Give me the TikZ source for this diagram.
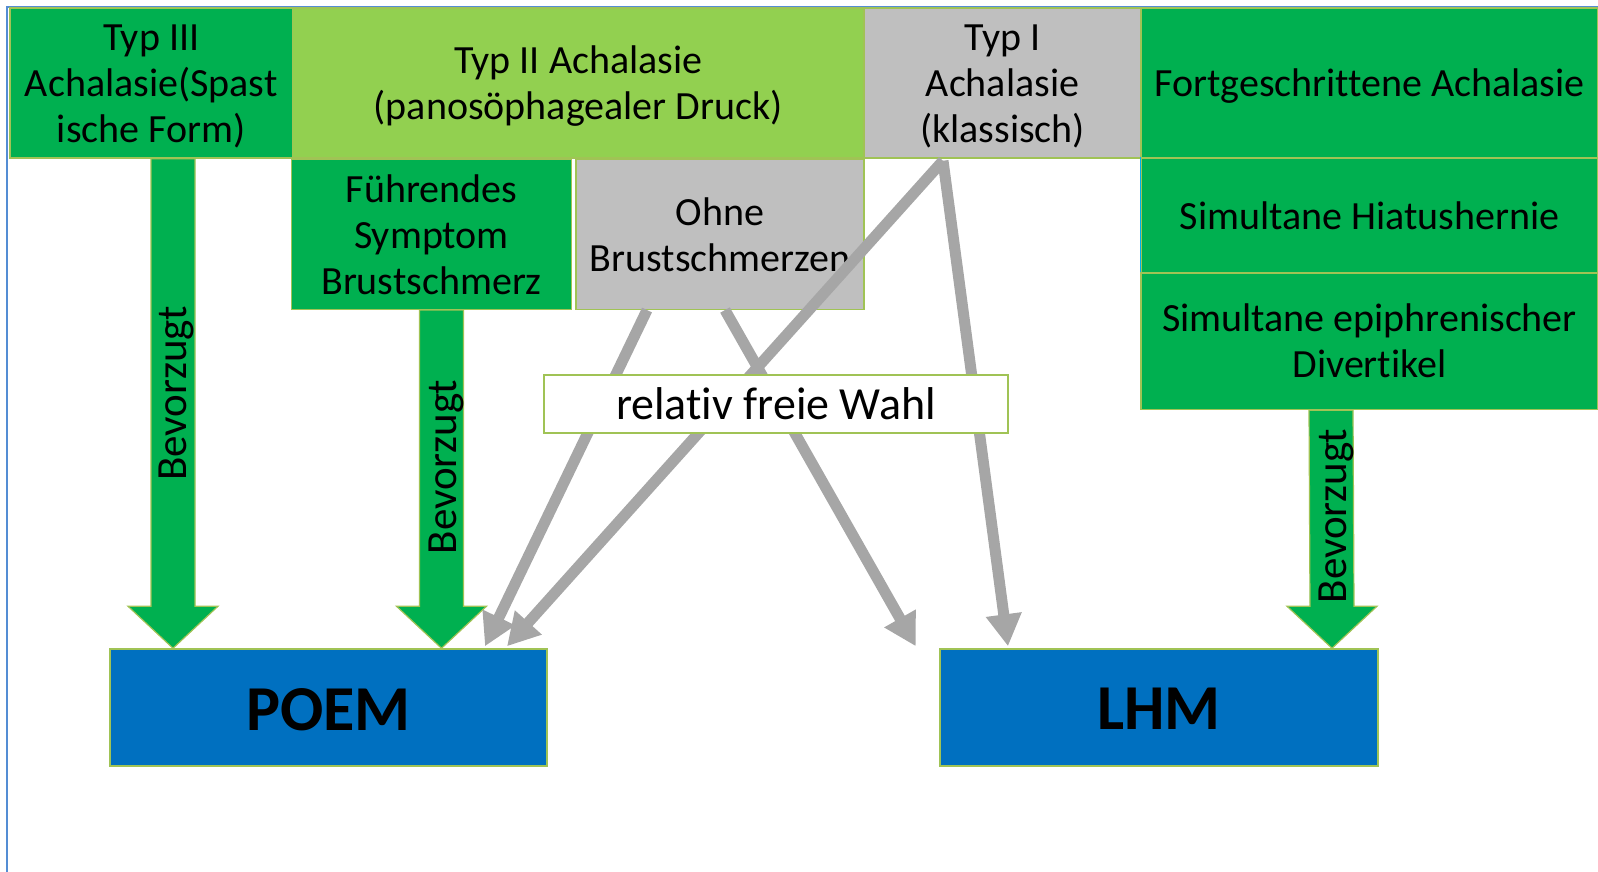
\documentclass[tikz,border=0pt]{standalone}
\usepackage{fontspec}
\setmainfont{Carlito}[Ligatures={NoCommon,NoContextual}]
\usetikzlibrary{arrows.meta,calc}
\definecolor{dgreen}{RGB}{0,176,80}
\definecolor{lgreen}{RGB}{146,208,80}
\definecolor{lgray}{RGB}{191,191,191}
\definecolor{pblue}{RGB}{0,112,192}
\definecolor{agray}{RGB}{166,166,166}
\definecolor{bord}{RGB}{160,195,85}
\definecolor{framec}{RGB}{84,141,212}
\definecolor{cyanedge}{RGB}{0,176,240}
\newcommand\myblockarrow[2]{%
  \draw[garrow] ($(#1)+(-22,0)$) -- ($(#2)+(-22,-42)$) -- ($(#2)+(-45,-42)$) -- (#2)
    -- ($(#2)+(45,-42)$) -- ($(#2)+(22,-42)$) -- ($(#1)+(22,0)$) -- cycle;}
\begin{document}
\begin{tikzpicture}[x=1pt,y=-1pt,
  cell/.style={draw=bord, line width=1.5pt, align=center, inner sep=0pt, text=black,
    font=\fontsize{40}{46}\selectfont},
  toptext/.style={align=center, inner sep=0pt, text=black, yshift=-3pt,
    font=\fontsize{40}{46}\selectfont},
  garrow/.style={draw=bord, line width=1.2pt, fill=dgreen},
  lab/.style={rotate=90, inner sep=0pt, text=black, font=\fontsize{43}{50}\selectfont},
  choice/.style={draw=agray, line width=11pt, -{Triangle[length=32pt,width=34pt]}},
  target/.style={draw=bord, line width=1.5pt, fill=pblue, inner sep=0pt, text=black,
    font=\fontsize{64}{70}\selectfont\bfseries},
  rel/.style={draw=bord, line width=1.5pt, fill=white, inner sep=0pt, text=black,
    font=\fontsize{46}{52}\selectfont}]
\useasboundingbox (0,0) rectangle (1598,872);
% outer frame
\draw[framec, line width=2pt] (7,872) -- (7,7) -- (1598,7);
% top row
\node[cell, fill=dgreen, minimum width=282.5pt, minimum height=150pt,
  label={[toptext]center:{Typ III\\Achalasie(Spast\\ische Form)}}] (t3) at (151.25,83) {};
\node[cell, fill=lgreen, minimum width=571.5pt, minimum height=150pt,
  label={[toptext]center:{Typ II Achalasie\\(panosöphagealer Druck)}}] (t2) at (578.25,83) {};
\node[cell, fill=lgray, minimum width=277pt, minimum height=150pt,
  label={[toptext]center:{Typ I\\Achalasie\\(klassisch)}}] (t1) at (1002.5,83) {};
\node[cell, fill=dgreen, minimum width=457pt, minimum height=150pt,
  label={[toptext]center:{Fortgeschrittene Achalasie}}] (fort) at (1369.5,83) {};
\node[cell, fill=dgreen, minimum width=457pt, minimum height=115pt] (hiat) at (1369.5,215.5)
  {Simultane Hiatushernie};
\draw[cyanedge, line width=1.5pt] (hiat.north west) -- (hiat.south west);
\node[cell, fill=dgreen, minimum width=457pt, minimum height=136.5pt] (div) at (1369.5,341.25)
  {Simultane epiphrenischer\\Divertikel};
% second row
\node[cell, fill=dgreen, minimum width=280pt, minimum height=150pt] (fuehr) at (431.5,234.3)
  {Führendes\\Symptom\\Brustschmerz};
\node[cell, fill=lgray, minimum width=288pt, minimum height=150pt] (ohne) at (720,234.3)
  {Ohne\\Brustschmerzen};
% targets
\node[target, minimum width=437pt, minimum height=117pt,
  label={[yshift=-2pt, inner sep=0pt, text=black, font=\fontsize{64}{70}\selectfont\bfseries]center:POEM}] (poem) at (328.5,707.5) {};
\node[target, minimum width=438pt, minimum height=117pt,
  label={[yshift=-1pt, inner sep=0pt, text=black, font=\fontsize{64}{70}\selectfont\bfseries]center:LHM}] (lhm) at (1159,707.5) {};
% green block arrows
\coordinate (a1s) at ([xshift=21.75pt]t3.south);
\coordinate (a1e) at ([xshift=-155.5pt]poem.north);
\coordinate (a2s) at ([xshift=10pt]fuehr.south);
\coordinate (a2e) at ([xshift=113pt]poem.north);
\coordinate (a3s) at ([xshift=-38.5pt]div.south);
\coordinate (a3e) at ([xshift=173pt]lhm.north);
\myblockarrow{a1s}{a1e}
\myblockarrow{a2s}{a2e}
\myblockarrow{a3s}{a3e}
\node[lab] (l1) at (176,393.5) {Bevorzugt};
\node[lab] (l2) at (446,467) {Bevorzugt};
\node[lab] (l3) at (1336,516) {Bevorzugt};
% gray arrows
\coordinate (bend) at ([xshift=-23.5pt,yshift=2pt]lhm.north west);
\draw[choice] ([xshift=-73pt]ohne.south) -- ([xshift=156.5pt,yshift=2pt]poem.north);
\draw[choice] ([xshift=5pt]ohne.south) -- (bend);
\draw[choice] ([xshift=-59.5pt,yshift=-2pt]t1.south) -- ([xshift=178.5pt,yshift=2pt]poem.north);
\draw[choice] ([xshift=-59.5pt,yshift=-2pt]t1.south) -- ([xshift=-151pt,yshift=2pt]lhm.north);
% relativ freie Wahl
\node[rel, minimum width=464pt, minimum height=58pt] (rfw) at (776,404) {relativ freie Wahl};
\end{tikzpicture}
\end{document}
